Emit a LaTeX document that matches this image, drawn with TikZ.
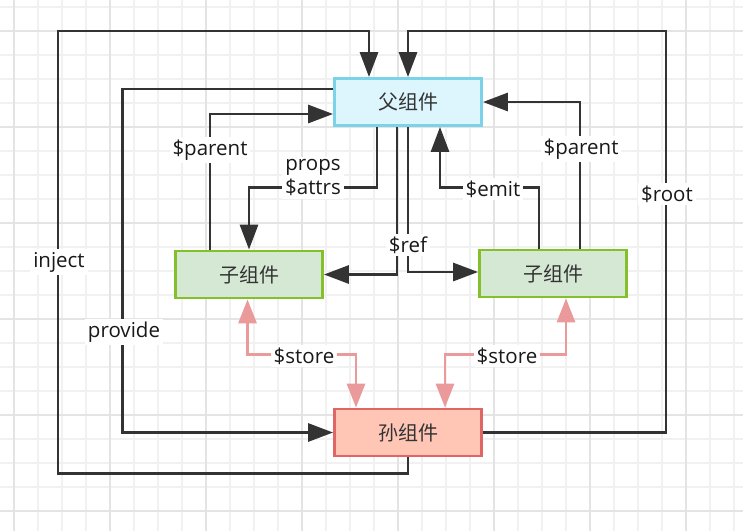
\documentclass[tikz,border=0pt]{standalone}
\usepackage{fontspec}
\setmainfont{Open Sans}
\newfontfamily\cjk{Noto Sans CJK SC}
\usetikzlibrary{arrows.meta,positioning}

\definecolor{linedark}{HTML}{333333}
\definecolor{storepink}{HTML}{EA9A9A}
\definecolor{parentfill}{HTML}{DDF6FD}
\definecolor{parentborder}{HTML}{7CD2E8}
\definecolor{childfill}{HTML}{D5E8D4}
\definecolor{childborder}{HTML}{84C02A}
\definecolor{grandfill}{HTML}{FFC6B6}
\definecolor{grandborder}{HTML}{E06666}
\definecolor{gridminor}{HTML}{F1F1F1}
\definecolor{gridmajor}{HTML}{E4E4E4}

\tikzset{
  comp/.style={draw, line width=2.8pt, minimum width=147pt, minimum height=47pt,
    font=\cjk\fontsize{20}{24}\selectfont, text=black!80},
  conn/.style={draw=linedark, line width=2.9pt, -{Triangle[length=25pt,width=18pt]}},
  storeconn/.style={draw=storepink, line width=2.9pt,
    {Triangle[length=24pt,width=18pt]}-{Triangle[length=24pt,width=18pt]}},
  lbl/.style={fill=white, inner sep=3pt, text=black!90, font=\fontsize{20.5}{24}\selectfont}
}

\begin{document}
\begin{tikzpicture}[x=1pt, y=-1pt]
  \useasboundingbox (0,0) rectangle (743,531);
  % background grid
  \foreach \gx in {14,38,...,734} \draw[gridminor, line width=1.3pt] (\gx,0) -- (\gx,531);
  \foreach \gy in {7,31,...,523} \draw[gridminor, line width=1.3pt] (0,\gy) -- (743,\gy);
  \foreach \gx in {14,110,...,686} \draw[gridmajor, line width=1.3pt] (\gx,0) -- (\gx,531);
  \foreach \gy in {31,127,...,511} \draw[gridmajor, line width=1.3pt] (0,\gy) -- (743,\gy);

  % components
  \node[comp, draw=parentborder, fill=parentfill] (parent) at (408,102) {父组件};
  \node[comp, draw=childborder, fill=childfill] (childL) at (249,274.5) {子组件};
  \node[comp, draw=childborder, fill=childfill] (childR) at (553,273.5) {子组件};
  \node[comp, draw=grandborder, fill=grandfill] (grand) at (408,432.5) {孙组件};

  % outer loops
  \draw[conn] (grand.south) -- ++(0,16) -| (58,31) -| ([xshift=-39pt]parent.north);
  \draw[conn] (grand.east) -| (666,31) -| (parent.north);
  \draw[conn] ([yshift=13pt]parent.west) -- ++(-211,0) |- (grand.west);

  % parent <-> children
  \draw[conn] ([xshift=-39pt]childL.north) |- ([yshift=-12pt]parent.west);
  \draw[conn] ([xshift=-31pt]parent.south) -- ++(0,61) -| (childL.north);
  \draw[conn] ([xshift=-11pt]parent.south) |- (childL.east);
  \draw[conn] (parent.south) |- ([yshift=1.5pt]childR.west);
  \draw[conn] ([xshift=-14pt]childR.north) -- ++(0,-61) -| ([xshift=32pt]parent.south);
  \draw[conn] ([xshift=27pt]childR.north) |- (parent.east);

  % store
  \draw[storeconn] ([xshift=-1.5pt]childL.south) -- ++(0,55) -| ([xshift=-52pt]grand.north);
  \draw[storeconn] ([xshift=13pt]childR.south) -- ++(0,56) -| ([xshift=37pt]grand.north);

  % labels
  \node[lbl] (injectlbl) at (59,262) {inject};
  \node[lbl] (providelbl) at (124,332) {provide};
  \node[lbl] (parentLlbl) at (210,150) {\$parent};
  \node[lbl, align=center] (propslbl) at (313,178) {props\\\$attrs};
  \node[lbl] (emitlbl) at (493,189) {\$emit};
  \node[lbl] (parentRlbl) at (581,149) {\$parent};
  \node[lbl] (rootlbl) at (667,194) {\$root};
  \node[lbl] (reflbl) at (408,245) {\$ref};
  \node[lbl] (storeLlbl) at (304,356) {\$store};
  \node[lbl] (storeRlbl) at (507,356) {\$store};
\end{tikzpicture}
\end{document}
